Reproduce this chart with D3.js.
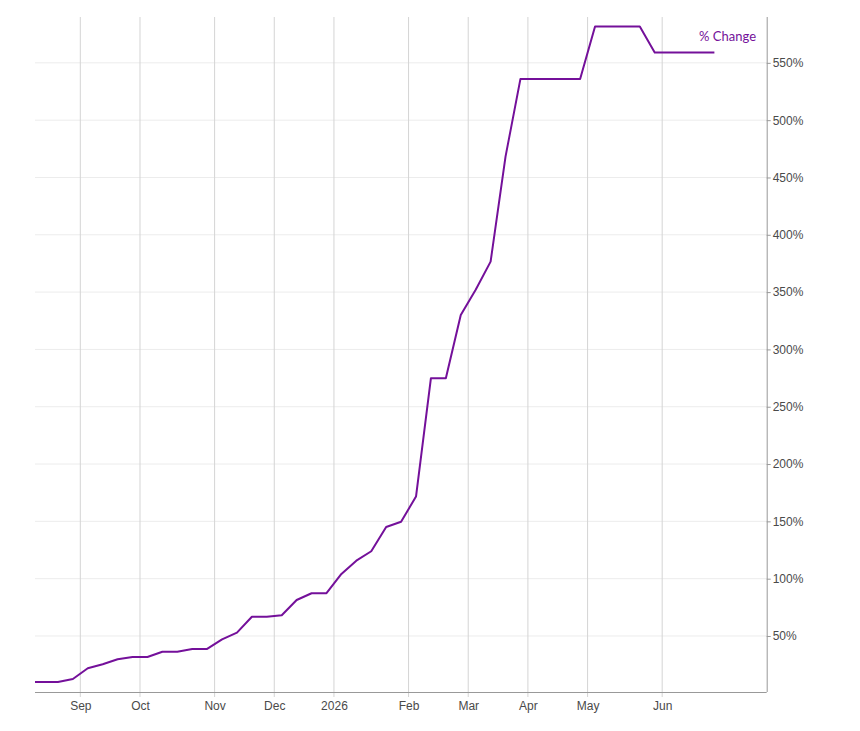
<!DOCTYPE html>
<html>
<head>
<meta charset="utf-8">
<script src="https://cdn.jsdelivr.net/npm/d3@7"></script>
<style>
  body { margin: 0; background: #fff; }
  .axis text { font-family: "Liberation Sans", Arial, sans-serif; font-size: 12px; fill: #4a4a4a; }
  .axis path, .axis line { stroke: #999; }
  .grid line { stroke: #d4d4d4; }
  .hgrid line { stroke: #ececec; }
</style>
</head>
<body>
<div id="chart"></div>
<script>
var width = 860;
var height = 731;
var margin = {top: 17, right: 93.3, bottom: 39, left: 35};
var w = width - margin.left - margin.right;
var h = height - margin.top - margin.bottom;

// weekly points (Fridays)
var weeks = [
  "2025-08-08","2025-08-15","2025-08-22","2025-08-29",
  "2025-09-05","2025-09-12","2025-09-19","2025-09-26",
  "2025-10-03","2025-10-10","2025-10-17","2025-10-24","2025-10-31",
  "2025-11-07","2025-11-14","2025-11-21","2025-11-28",
  "2025-12-05","2025-12-12","2025-12-19","2025-12-26",
  "2026-01-02","2026-01-09","2026-01-16","2026-01-23","2026-01-30",
  "2026-02-06","2026-02-13","2026-02-20","2026-02-27",
  "2026-03-06","2026-03-13","2026-03-20","2026-03-27",
  "2026-04-03","2026-04-10","2026-04-17","2026-04-24",
  "2026-05-01","2026-05-08","2026-05-15","2026-05-22","2026-05-29",
  "2026-06-05","2026-06-12","2026-06-19","2026-06-26"
];

var pctChange = [
  9.9, 9.9, 9.9, 12.5,
  21.8, 25.3, 29.7, 31.7,
  31.7, 36.3, 36.3, 38.7, 38.7,
  47.1, 52.9, 66.8, 66.8,
  68.1, 81.4, 87.3, 87.3,
  104.1, 115.7, 123.9, 145.1, 149.7,
  171.6, 274.9, 274.9, 330.1,
  352, 376.6, 468.2, 536,
  536, 536, 536, 536,
  581.7, 581.7, 581.7, 581.7, 559,
  559, 559, 559, 559
];

var yTicks = [50, 100, 150, 200, 250, 300, 350, 400, 450, 500, 550];
var seriesName = "% Change";

var parseDate = d3.timeParse("%Y-%m-%d");
var dates = weeks.map(parseDate);

var data = dates.map(function(d, i) {
  return {i: i, date: d, value: pctChange[i]};
});

// tick at the first week of each month, half a step to the left
var monthTicks = [];
dates.forEach(function(d, i) {
  if (i > 0 && d.getMonth() !== dates[i - 1].getMonth()) monthTicks.push(i - 0.5);
});

var x = d3.scaleLinear().domain([0, data.length - 1]).range([-6.9, 679.4]);
var y = d3.scaleLinear().domain([0, 590]).range([h + 1.3, 0]);

var svg = d3.select("#chart")
  .append("svg")
  .attr("width", width)
  .attr("height", height)
  .append("g")
  .attr("transform", "translate(" + margin.left + "," + margin.top + ")");

svg.append("defs").append("clipPath").attr("id", "clip")
  .append("rect").attr("width", w).attr("height", h);

// horizontal grid
svg.append("g").attr("class", "hgrid")
  .selectAll("line").data(yTicks).enter()
  .append("line")
  .attr("x1", 0).attr("x2", w)
  .attr("y1", function(d) { return y(d); })
  .attr("y2", function(d) { return y(d); });

// vertical grid
svg.append("g").attr("class", "grid")
  .selectAll("line").data(monthTicks).enter()
  .append("line")
  .attr("x1", function(d) { return x(d); })
  .attr("x2", function(d) { return x(d); })
  .attr("y1", 0).attr("y2", h + 5);

function monthLabel(t) {
  var d = dates[Math.ceil(t)];
  return d.getMonth() === 0 ? d3.timeFormat("%Y")(d) : d3.timeFormat("%b")(d);
}

var xAxis = svg.append("g").attr("class", "axis")
  .attr("transform", "translate(0," + h + ")")
  .call(d3.axisBottom(x).tickValues(monthTicks).tickFormat(monthLabel).tickSize(5).tickPadding(4));
xAxis.select(".domain").attr("d", "M0,0.5H" + w);
xAxis.selectAll(".tick line").remove();

var yAxis = svg.append("g").attr("class", "axis")
  .attr("transform", "translate(" + w + ",0)")
  .call(d3.axisRight(y).tickValues(yTicks).tickFormat(function(d) { return d + "%"; }).tickSize(4).tickPadding(2));
yAxis.select(".domain").attr("d", "M0.5,0V" + h);

var line = d3.line()
  .x(function(d) { return x(d.i); })
  .y(function(d) { return y(d.value); });

svg.append("path")
  .datum(data)
  .attr("clip-path", "url(#clip)")
  .attr("fill", "none")
  .attr("stroke", "#74109a")
  .attr("stroke-width", 2)
  .attr("stroke-linejoin", "round")
  .attr("d", line);

svg.append("text")
  .attr("x", 756 - margin.left)
  .attr("y", 41 - margin.top)
  .attr("text-anchor", "end")
  .attr("fill", "#74109a")
  .style("font-family", "Lato, 'Noto Sans', sans-serif")
  .style("font-size", "13px")
  .text(seriesName);
</script>
</body>
</html>
